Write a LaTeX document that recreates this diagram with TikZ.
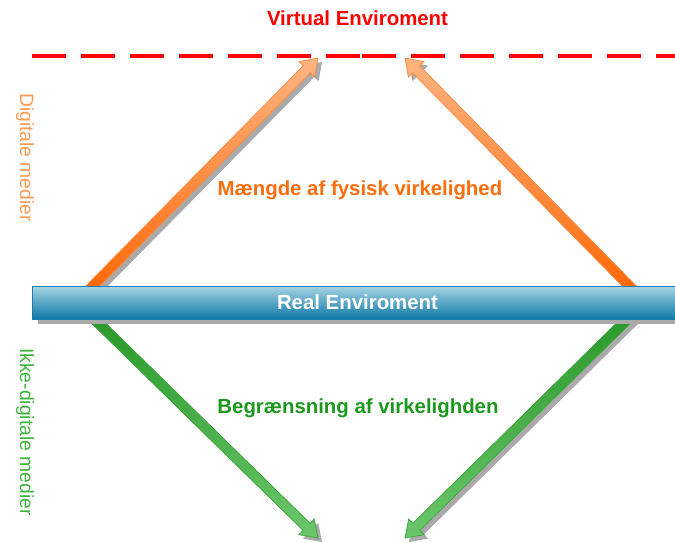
\documentclass[tikz,border=0pt]{standalone}
\usepackage{fontspec}
\setmainfont{Liberation Sans}
\usetikzlibrary{calc,shadows}
\definecolor{vred}{HTML}{FF0000}
\definecolor{orA}{HTML}{FF6400}
\definecolor{orM}{HTML}{FF8A40}
\definecolor{orB}{HTML}{FFB482}
\definecolor{orLine}{HTML}{FF8A3D}
\definecolor{grA}{HTML}{259525}
\definecolor{grM}{HTML}{48B048}
\definecolor{grB}{HTML}{6CC66C}
\definecolor{grLine}{HTML}{38A838}
\definecolor{shadowgray}{HTML}{AAAAAA}
\definecolor{barTop}{HTML}{A6D4E4}
\definecolor{barBot}{HTML}{0D78A6}
\definecolor{barLine}{HTML}{1A7DAE}
\definecolor{txtOrange}{HTML}{FF6C0C}
\definecolor{txtGreen}{HTML}{1C981C}
\definecolor{sideOrange}{HTML}{FF9A55}
\definecolor{sideGreen}{HTML}{3CB43C}
\newcommand\fatarrow[4]{% origin, neck, tip, options
  \path[#4] ($(#1)!5pt!90:(#3)$) -- ($(#2)!5pt!90:(#3)$) -- ($(#2)!11pt!90:(#3)$) -- (#3)
    -- ($(#2)!11pt!-90:(#3)$) -- ($(#2)!5pt!-90:(#3)$) -- ($(#1)!5pt!-90:(#3)$) -- cycle;}
\tikzset{
  bigtext/.style={font=\bfseries\fontsize{20.4}{24}\selectfont, anchor=base, inner sep=0pt},
  sidetext/.style={font=\fontsize{19.3}{23}\selectfont, rotate=-90, inner sep=0pt},
  redline/.style={draw=vred, line width=4pt, dash pattern=on 34pt off 15pt},
  arrshadow/.style={fill=shadowgray, transform canvas={shift={(4pt,-4pt)}}},
  orarrow/.style={bottom color=orA, middle color=orM, top color=orB, draw=orLine, line width=0.7pt},
  grarrow/.style={top color=grA, middle color=grM, bottom color=grB, draw=grLine, line width=0.7pt},
  barstyle/.style={draw=barLine, line width=0.8pt, top color=barTop, bottom color=barBot,
    minimum width=651pt, minimum height=33pt, inner sep=0pt, text=white,
    font=\bfseries\fontsize{20.4}{24}\selectfont,
    drop shadow={shadow xshift=6pt, shadow yshift=-5pt, fill=shadowgray, opacity=1}}
}
\begin{document}
\begin{tikzpicture}[x=1pt,y=-1pt]
\useasboundingbox (0,0) rectangle (675,543);
% dashed boundary
\coordinate (d1) at (32,56);
\coordinate (d2) at (360,56);
\coordinate (d3) at (362,56);
\coordinate (d4) at (690,56);
\draw[redline] (d1) -- (d2);
\draw[redline] (d3) -- (d4);
\node[bigtext, text=vred] (vt) at (357.5,26) {Virtual Enviroment};
% arrow anchor points
\coordinate (L0) at (77,302);
\coordinate (R0) at (645,302);
\coordinate (oLt) at (318,58);
\coordinate (oRt) at (405,58);
\coordinate (gLt) at (318,538);
\coordinate (gRt) at (405,538);
\coordinate (oLn) at ($(oLt)!16pt!(L0)$);
\coordinate (oRn) at ($(oRt)!16pt!(R0)$);
\coordinate (gLn) at ($(gLt)!16pt!(L0)$);
\coordinate (gRn) at ($(gRt)!16pt!(R0)$);
% shadows
\fatarrow{L0}{oLn}{oLt}{arrshadow}
\fatarrow{R0}{oRn}{oRt}{arrshadow}
\fatarrow{L0}{gLn}{gLt}{arrshadow}
\fatarrow{R0}{gRn}{gRt}{arrshadow}
% arrows
\fatarrow{L0}{oLn}{oLt}{orarrow}
\fatarrow{R0}{oRn}{oRt}{orarrow}
\fatarrow{L0}{gLn}{gLt}{grarrow}
\fatarrow{R0}{gRn}{gRt}{grarrow}
% real environment bar
\node[barstyle] (real) at (357.5,302.5) {Real Enviroment};
% labels
\node[bigtext, text=txtOrange] (mf) at (360,195) {Mængde af fysisk virkelighed};
\node[bigtext, text=txtGreen] (bv) at (358,413) {Begrænsning af virkelighden};
\node[sidetext, text=sideOrange] (dm) at (25,157.5) {Digitale medier};
\node[sidetext, text=sideGreen] (im) at (25,432) {Ikke-digitale medier};
\end{tikzpicture}
\end{document}
